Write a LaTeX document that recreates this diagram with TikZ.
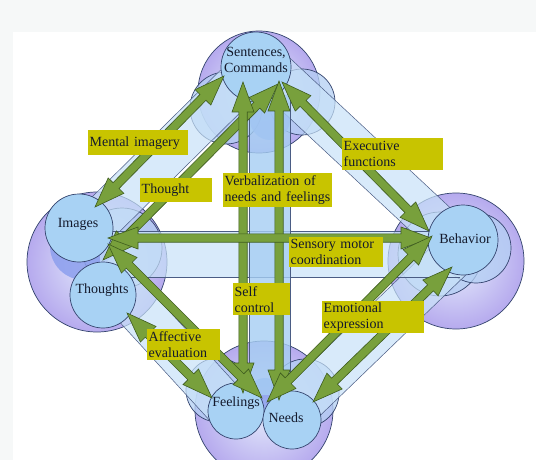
\documentclass[tikz,border=0pt]{standalone}
\usepackage{fontspec}
\setmainfont{Liberation Serif}
\usetikzlibrary{calc}
\definecolor{bggray}{HTML}{F6F8F8}
\definecolor{cline}{HTML}{34446E}
\definecolor{bline}{HTML}{4A5C84}
\definecolor{sky}{HTML}{A8D2F4}
\definecolor{midblue}{HTML}{B4D0F4}
\definecolor{darkblue}{HTML}{8C9FEE}
\definecolor{lavin}{HTML}{E6EEFC}
\definecolor{lavout}{HTML}{B6AAEE}
\definecolor{bandfill}{HTML}{C8E2F8}
\definecolor{vbandfill}{HTML}{A6CEF3}
\definecolor{arrfill}{HTML}{78A03C}
\definecolor{arrline}{HTML}{3E5C1E}
\definecolor{ylw}{HTML}{C8C400}
\definecolor{txt}{HTML}{141A2C}
\newcommand\fatarrow[2]{%
 \draw[fatarr] (#1)
 -- ($(#1)!30pt!(#2)!11pt!90:(#2)$)
 -- ($(#1)!30pt!(#2)!4.2pt!90:(#2)$)
 -- ($(#2)!30pt!(#1)!4.2pt!-90:(#1)$)
 -- ($(#2)!30pt!(#1)!11pt!-90:(#1)$)
 -- (#2)
 -- ($(#2)!30pt!(#1)!11pt!90:(#1)$)
 -- ($(#2)!30pt!(#1)!4.2pt!90:(#1)$)
 -- ($(#1)!30pt!(#2)!4.2pt!-90:(#2)$)
 -- ($(#1)!30pt!(#2)!11pt!-90:(#2)$)
 -- cycle;}
\newcommand\bandshape[4]{%
 \fill[#4] ($(#1)!#3!90:(#2)$) -- ($(#2)!#3!-90:(#1)$) -- ($(#2)!#3!90:(#1)$) -- ($(#1)!#3!-90:(#2)$) -- cycle;
 \draw[bandedge] ($(#1)!#3!90:(#2)$) -- ($(#2)!#3!-90:(#1)$);
 \draw[bandedge] ($(#2)!#3!90:(#1)$) -- ($(#1)!#3!-90:(#2)$);}
\begin{document}
\begin{tikzpicture}[x=1pt,y=-1pt,
 cl/.style={circle, inner sep=0pt, draw=cline, line width=0.7pt},
 outerc/.style={cl, inner color=lavin, outer color=lavout},
 midc/.style={cl, fill=midblue, fill opacity=0.75},
 darkc/.style={circle, inner sep=0pt, fill=darkblue, fill opacity=0.85},
 innerc/.style={cl, fill=sky},
 ctext/.style={font=\fontsize{14}{16}\selectfont, text=txt, align=center, inner sep=0pt},
 lbl/.style={fill=ylw, anchor=north west, align=left, inner xsep=1.5pt, inner ysep=0pt, font=\fontsize{14}{16}\selectfont, text=txt},
 fatarr/.style={fill=arrfill, draw=arrline, line width=0.6pt, line join=miter},
 bandst/.style={fill=bandfill, fill opacity=0.7},
 vbandst/.style={fill=vbandfill, fill opacity=0.8},
 bandedge/.style={draw=bline, line width=0.5pt}]
\useasboundingbox (0,0) rectangle (536,460);
\fill[bggray] (0,0) rectangle (536,460);
\fill[white] (13,32) rectangle (536,460);
% outer circles
\node[outerc, minimum size=122pt] (tO) at (259,92) {};
\node[outerc, minimum size=140pt] (lO) at (97,262) {};
\node[outerc, minimum size=136pt] (rO) at (456,261) {};
\node[outerc, minimum size=138pt] (bO) at (264,410) {};
% medium circles
\node[midc, minimum size=72pt] (tL) at (226,108) {};
\node[midc, minimum size=66pt] (tR) at (302,102) {};
\node[darkc, minimum size=40pt] (tD) at (270,120) {};
\node[midc, minimum size=80pt] (lM) at (122,248) {};
\node[darkc, minimum size=68pt] (lD) at (84,246) {};
\node[midc, minimum size=84pt] (rL) at (440,254) {};
\node[midc, minimum size=70pt] (rR) at (476,248) {};
\node[midc, minimum size=64pt] (bL) at (218,390) {};
\node[midc, minimum size=68pt] (bR) at (305,393) {};
\node[darkc, minimum size=36pt] (bD) at (265,396) {};
% bands
\coordinate (ul1) at (95,225); \coordinate (ul2) at (255,67);
\coordinate (tr1) at (265,65); \coordinate (tr2) at (460,247);
\coordinate (h1) at (100,254); \coordinate (h2) at (460,254);
\coordinate (v1) at (269.5,95); \coordinate (v2) at (269.5,395);
\coordinate (ll1) at (100,268); \coordinate (ll2) at (240,421);
\coordinate (lr1) at (460,250); \coordinate (lr2) at (290,414);
\bandshape{ul1}{ul2}{22pt}{bandst}
\bandshape{tr1}{tr2}{22pt}{bandst}
\bandshape{ll1}{ll2}{22pt}{bandst}
\bandshape{lr1}{lr2}{22pt}{bandst}
\bandshape{h1}{h2}{23pt}{bandst}
\bandshape{v1}{v2}{20.5pt}{vbandst}
% inner circles
\node[innerc, minimum size=70pt] (sent) at (256,67) {};
\node[innerc, minimum size=68pt] (images) at (79,228) {};
\node[innerc, minimum size=66pt] (thoughts) at (103,295) {};
\node[innerc, minimum size=70pt] (behavior) at (463,240) {};
\node[innerc, minimum size=56pt] (feelings) at (236,411) {};
\node[innerc, minimum size=58pt] (needs) at (292,420) {};
% arrow end points
\coordinate (miA) at ($(images)+(16,-21)$);  \coordinate (miB) at ($(sent)+(-32,9)$);
\coordinate (thA) at ($(images)+(24,32)$);   \coordinate (thB) at ($(sent)+(22,17)$);
\coordinate (scA) at ($(sent)+(-13,15)$);    \coordinate (scB) at ($(feelings)+(7,-18)$);
\coordinate (vbA) at ($(sent)+(23,14)$);     \coordinate (vbB) at ($(needs)+(-13,-20)$);
\coordinate (exA) at ($(sent)+(26,15)$);     \coordinate (exB) at ($(behavior)+(-34,-9)$);
\coordinate (hzA) at ($(images)+(29,10)$);   \coordinate (hzB) at ($(behavior)+(-32,-2)$);
\coordinate (e1A) at ($(feelings)+(31,-9)$); \coordinate (e1B) at ($(behavior)+(-31,-4)$);
\coordinate (e2A) at ($(needs)+(21,-18)$);   \coordinate (e2B) at ($(behavior)+(-11,27)$);
\coordinate (a1A) at ($(thoughts)+(24,18)$); \coordinate (a1B) at ($(feelings)+(-24,-13)$);
\coordinate (a2A) at ($(images)+(29,16)$);   \coordinate (a2B) at ($(feelings)+(26,-13)$);
\fatarrow{miA}{miB}
\fatarrow{thA}{thB}
\fatarrow{scA}{scB}
\fatarrow{vbA}{vbB}
\fatarrow{exA}{exB}
\fatarrow{hzA}{hzB}
\fatarrow{e1A}{e1B}
\fatarrow{e2A}{e2B}
\fatarrow{a1A}{a1B}
\fatarrow{a2A}{a2B}
% labels
\node[lbl, text width=97pt, minimum height=25pt] (lmi) at (88,130) {Mental imagery};
\node[lbl, text width=69pt, minimum height=24pt] (lth) at (140,178) {Thought};
\node[lbl, text width=106pt, minimum height=34pt] (lvb) at (223,173) {Verbalization of\\needs and feelings};
\node[lbl, text width=98pt, minimum height=32pt] (lex) at (342,138) {Executive\\functions};
\node[lbl, text width=91pt, minimum height=30pt] (lsm) at (289,237) {Sensory motor\\coordination};
\node[lbl, text width=54pt, minimum height=32pt] (lsc) at (233,283) {Self\\control};
\node[lbl, text width=99pt, minimum height=32pt] (lem) at (322,301) {Emotional\\expression};
\node[lbl, text width=70pt, minimum height=31pt] (laf) at (147,329) {Affective\\evaluation};
% circle texts
\node[ctext] (tsent) at (256,60) {Sentences,\\Commands};
\node[ctext] (timg) at (78,224) {Images};
\node[ctext] (ttho) at (102,290) {Thoughts};
\node[ctext] (tbeh) at (465,239) {Behavior};
\node[ctext] (tfee) at (236,403) {Feelings};
\node[ctext] (tnee) at (286,418) {Needs};
\end{tikzpicture}
\end{document}
